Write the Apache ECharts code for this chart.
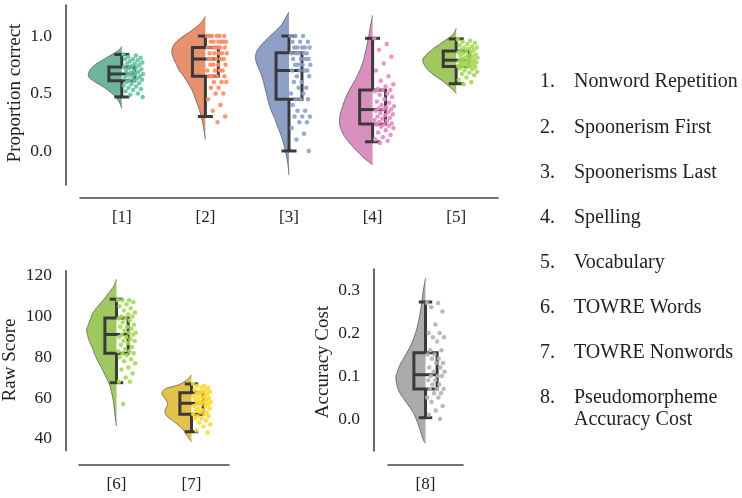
<!DOCTYPE html>
<html>
<head>
<meta charset="utf-8">
<title>Raincloud plots</title>
<script src="https://cdn.jsdelivr.net/npm/echarts@6/dist/echarts.min.js"></script>
<style>
  html, body { margin: 0; padding: 0; background: #fff; }
  #chart { width: 742px; height: 498px; }
</style>
</head>
<body>
<div id="chart"></div>
<script>
// task names for the list on the right
var taskNames = ['Nonword Repetition', 'Spoonerism First', 'Spoonerisms Last', 'Spelling',
  'Vocabulary', 'TOWRE Words', 'TOWRE Nonwords', 'Pseudomorpheme', 'Accuracy Cost'];

// which panel each task is drawn in, and its slot on that panel's x axis
var panelOf = [0, 0, 0, 0, 0, 1, 1, 2];
var slotOf = [1, 2, 3, 4, 5, 1, 2, 1];
var firstTask = [1, 6, 8];

// y tick labels per panel
var yTicks0 = [0, 0.5, 1.0];
var yTicks1 = [40, 60, 80, 100, 120];
var yTicks2 = [0, 0.1, 0.2, 0.3];

// box plots: [low whisker, Q1, median, Q3, high whisker]
var boxStats = [
  [0.47, 0.61, 0.67, 0.73, 0.84],
  [0.30, 0.65, 0.80, 0.90, 1.00],
  [0.00, 0.45, 0.70, 0.855, 1.00],
  [0.08, 0.235, 0.36, 0.53, 0.98],
  [0.585, 0.735, 0.79, 0.87, 0.975],
  [67.5, 82, 91.2, 99.3, 108.5],
  [43.4, 52, 57.4, 62.5, 66.9],
  [0.003, 0.07, 0.103, 0.154, 0.272]
];

// half violin outlines: [value, relative width]
var violin1 = [[0.91, 0], [0.87, 0.12], [0.83, 0.35], [0.79, 0.58], [0.75, 0.8], [0.71, 0.94], [0.67, 1.0],
  [0.64, 0.98], [0.61, 0.85], [0.57, 0.62], [0.53, 0.42], [0.49, 0.25], [0.45, 0.13], [0.41, 0.05], [0.37, 0]];
var violin2 = [[1.17, 0], [1.11, 0.15], [1.05, 0.4], [0.99, 0.7], [0.94, 0.9], [0.88, 1.0], [0.82, 0.97],
  [0.76, 0.88], [0.70, 0.78], [0.65, 0.65], [0.59, 0.52], [0.53, 0.4], [0.47, 0.32], [0.415, 0.25],
  [0.36, 0.18], [0.27, 0.1], [0.18, 0.04], [0.10, 0]];
var violin3 = [[1.21, 0], [1.154, 0.11], [1.096, 0.23], [1.037, 0.43], [0.98, 0.64], [0.92, 0.84],
  [0.863, 0.97], [0.806, 1.0], [0.748, 0.95], [0.69, 0.86], [0.632, 0.79], [0.574, 0.74], [0.516, 0.69],
  [0.458, 0.64], [0.40, 0.59], [0.342, 0.52], [0.284, 0.43], [0.226, 0.36], [0.168, 0.28], [0.11, 0.21],
  [0.052, 0.15], [-0.035, 0.08], [-0.12, 0.03], [-0.21, 0]];
var violin4 = [[1.18, 0], [1.11, 0.05], [0.99, 0.12], [0.878, 0.2], [0.763, 0.3], [0.646, 0.47], [0.559, 0.64],
  [0.472, 0.79], [0.385, 0.9], [0.298, 0.98], [0.211, 0.97], [0.124, 0.83], [0.037, 0.59], [-0.05, 0.3],
  [-0.12, 0]];
var violin5 = [[1.067, 0], [1.009, 0.11], [0.95, 0.39], [0.893, 0.67], [0.835, 0.9], [0.791, 1.0],
  [0.733, 0.92], [0.675, 0.73], [0.617, 0.45], [0.559, 0.2], [0.5, 0]];
var violin6 = [[118.3, 0], [114.7, 0.1], [111.4, 0.27], [108.2, 0.43], [104.9, 0.63], [101.6, 0.79],
  [98.3, 0.88], [95, 0.96], [93.4, 1.0], [91.8, 0.98], [88.5, 0.92], [85.2, 0.82], [82, 0.74], [78.7, 0.64],
  [75.4, 0.52], [72.1, 0.41], [68.8, 0.3], [65.6, 0.21], [62.3, 0.16], [59, 0.11], [54.1, 0.07],
  [49.2, 0.03], [46.2, 0]];
var violin7 = [[71.3, 0], [68.8, 0.16], [66.4, 0.44], [64.8, 0.83], [63.1, 0.97], [61.5, 0.97], [59, 0.85],
  [56.6, 0.8], [54.1, 0.88], [51.6, 0.85], [49.2, 0.66], [46.7, 0.44], [44.3, 0.27], [41.8, 0.16], [38.5, 0]];
var violin8 = [[0.327, 0], [0.3, 0.07], [0.269, 0.13], [0.238, 0.2], [0.207, 0.3], [0.176, 0.46],
  [0.153, 0.63], [0.13, 0.82], [0.106, 0.96], [0.091, 0.98], [0.067, 0.9], [0.044, 0.7], [0.021, 0.46],
  [-0.002, 0.3], [-0.026, 0.18], [-0.049, 0.07], [-0.056, 0]];
var violins = [violin1, violin2, violin3, violin4, violin5, violin6, violin7, violin8];

// individual scores (the rain)
var scores1 = [0.84, 0.83, 0.82, 0.81, 0.80, 0.80, 0.79, 0.78, 0.77, 0.76, 0.76, 0.75, 0.74, 0.73, 0.73, 0.72,
  0.71, 0.70, 0.70, 0.69, 0.68, 0.67, 0.67, 0.66, 0.65, 0.65, 0.64, 0.63, 0.62, 0.62, 0.61, 0.60, 0.59, 0.58,
  0.57, 0.56, 0.55, 0.54, 0.53, 0.52, 0.50, 0.49, 0.47];
var scores2 = [1, 1, 1, 1, 1, 1, 0.95, 0.95, 0.95, 0.95, 0.95, 0.95, 0.9, 0.9, 0.9, 0.9, 0.9, 0.9,
  0.85, 0.85, 0.85, 0.85, 0.85, 0.8, 0.8, 0.8, 0.8, 0.8, 0.75, 0.75, 0.75, 0.75, 0.7, 0.7, 0.7, 0.7,
  0.65, 0.65, 0.65, 0.65, 0.6, 0.6, 0.6, 0.55, 0.55, 0.5, 0.5, 0.45, 0.4, 0.35, 0.3, 0.25];
var scores3 = [1, 1, 1, 0.95, 0.95, 0.95, 0.9, 0.9, 0.9, 0.9, 0.9, 0.85, 0.85, 0.85, 0.85, 0.85,
  0.8, 0.8, 0.8, 0.8, 0.75, 0.75, 0.75, 0.75, 0.7, 0.7, 0.7, 0.7, 0.65, 0.65, 0.6, 0.6, 0.55, 0.55,
  0.5, 0.5, 0.45, 0.45, 0.45, 0.4, 0.35, 0.35, 0.3, 0.3, 0.3, 0.25, 0.25, 0.2, 0.15, 0.1, 0];
var scores4 = [0.98, 0.93, 0.88, 0.82, 0.76, 0.7, 0.65, 0.61, 0.58, 0.56, 0.54, 0.53, 0.53, 0.52, 0.5, 0.49,
  0.47, 0.45, 0.43, 0.42, 0.4, 0.39, 0.38, 0.37, 0.36, 0.36, 0.35, 0.34, 0.33, 0.32, 0.31, 0.3, 0.29, 0.28,
  0.27, 0.26, 0.25, 0.24, 0.23, 0.23, 0.22, 0.21, 0.2, 0.18, 0.16, 0.14, 0.12, 0.1, 0.09, 0.07];
var scores5 = [0.97, 0.96, 0.95, 0.94, 0.93, 0.92, 0.91, 0.9, 0.9, 0.89, 0.88, 0.88, 0.87, 0.86, 0.86, 0.85,
  0.84, 0.83, 0.83, 0.82, 0.81, 0.81, 0.8, 0.8, 0.79, 0.79, 0.78, 0.78, 0.77, 0.77, 0.76, 0.76, 0.75, 0.75,
  0.74, 0.74, 0.74, 0.73, 0.73, 0.72, 0.71, 0.7, 0.69, 0.68, 0.67, 0.66, 0.64, 0.62, 0.6, 0.58];
var scores6 = [108, 108, 108, 107, 106, 105, 104, 103, 102, 101, 100, 100, 99, 99, 98, 97, 96, 95, 95, 94,
  93, 92, 92, 91, 91, 90, 90, 89, 88, 88, 87, 86, 85, 84, 83, 83, 82, 82, 81, 80, 79, 78, 77, 75, 74, 72,
  70, 68, 68, 57];
var scores7 = [67, 66, 66, 65, 65, 64, 64, 63, 63, 63, 62, 62, 62, 61, 61, 60, 60, 60, 59, 59, 58, 58, 58,
  57, 57, 57, 56, 56, 55, 55, 54, 54, 53, 53, 52, 52, 51, 51, 50, 50, 49, 48, 47, 46, 44, 43];
var scores8 = [0.27, 0.27, 0.26, 0.25, 0.22, 0.2, 0.2, 0.19, 0.19, 0.18, 0.16, 0.16, 0.15, 0.15, 0.14, 0.14,
  0.13, 0.13, 0.12, 0.12, 0.11, 0.11, 0.1, 0.1, 0.1, 0.09, 0.09, 0.08, 0.08, 0.07, 0.07, 0.07, 0.06, 0.06,
  0.05, 0.05, 0.04, 0.03, 0.02, 0.01, 0];
var scores = [scores1, scores2, scores3, scores4, scores5, scores6, scores7, scores8];

// Set2 palette, violins a bit desaturated like seaborn does
var pointColors = ['#66c2a5', '#fc8d62', '#8da0cb', '#e78ac3', '#a6d854', '#a6d854', '#ffd92f', '#b3b3b3'];
var violinColors = ['#6fb59d', '#e8916e', '#8fa0c6', '#d990bf', '#9fc860', '#9fc860', '#e2c24a', '#ababab'];

var serif = '"Liberation Serif", "DejaVu Serif", serif';
var textColor = '#222';
var axisColor = '#444';
var boxColor = '#3a3a3a';

var chart = echarts.init(document.getElementById('chart'));

/**
 * deterministic sideways spread of the points, right of the centre line
 */
function jitter(i) {
  return 0.02 + ((i * 0.618034) % 1) * 0.24;
}

/**
 * catmull-rom through pixel points, only to round off the outline
 */
function smoothPath(pts, cx) {
  var out = [];
  var n = pts.length;
  for (var i = 0; i < n - 1; i++) {
    var p0 = pts[Math.max(i - 1, 0)], p1 = pts[i], p2 = pts[i + 1], p3 = pts[Math.min(i + 2, n - 1)];
    for (var s = 0; s < 8; s++) {
      var t = s / 8, t2 = t * t, t3 = t2 * t;
      var x = 0.5 * (2 * p1[0] + (-p0[0] + p2[0]) * t + (2 * p0[0] - 5 * p1[0] + 4 * p2[0] - p3[0]) * t2 +
        (-p0[0] + 3 * p1[0] - 3 * p2[0] + p3[0]) * t3);
      var y = 0.5 * (2 * p1[1] + (-p0[1] + p2[1]) * t + (2 * p0[1] - 5 * p1[1] + 4 * p2[1] - p3[1]) * t2 +
        (-p0[1] + 3 * p1[1] - 3 * p2[1] + p3[1]) * t3);
      out.push([Math.min(x, cx), y]);
    }
  }
  out.push(pts[n - 1]);
  return out;
}

function violinSeries(k) {
  return {
    type: 'custom',
    xAxisIndex: panelOf[k],
    yAxisIndex: panelOf[k],
    z: 1,
    silent: true,
    data: [[slotOf[k], boxStats[k][2]]],
    renderItem: function (params, api) {
      var c = slotOf[k];
      var cx = api.coord([c, 0])[0];
      var pts = smoothPath(violins[k].map(function (p) {
        return api.coord([c - p[1] * 0.4, p[0]]);
      }), cx);
      return {
        type: 'group',
        children: [{
          type: 'polygon',
          shape: { points: pts },
          style: { fill: violinColors[k] }
        }, {
          type: 'polyline',
          shape: { points: pts },
          style: { stroke: '#555', lineWidth: 0.8, fill: null }
        }]
      };
    }
  };
}

function boxSeries(k) {
  return {
    type: 'custom',
    xAxisIndex: panelOf[k],
    yAxisIndex: panelOf[k],
    z: 2,
    silent: true,
    data: [[slotOf[k], boxStats[k][2]]],
    renderItem: function (params, api) {
      var s = boxStats[k], c = slotOf[k];
      var lo = api.coord([c, s[0]]), q1 = api.coord([c, s[1]]), md = api.coord([c, s[2]]);
      var q3 = api.coord([c, s[3]]), hi = api.coord([c, s[4]]);
      var bw = api.size([0.155, 0])[0];
      var cw = api.size([0.09, 0])[0];
      var x = lo[0];
      var st = { stroke: boxColor, lineWidth: 3, fill: null };
      function seg(x1, y1, x2, y2) {
        return { type: 'line', shape: { x1: x1, y1: y1, x2: x2, y2: y2 }, style: st };
      }
      return {
        type: 'group',
        children: [
          { type: 'rect', shape: { x: x - bw, y: q3[1], width: bw * 2, height: q1[1] - q3[1] }, style: st },
          seg(x - bw, md[1], x + bw, md[1]),
          seg(x, q3[1], x, hi[1]),
          seg(x, q1[1], x, lo[1]),
          seg(x - cw, hi[1], x + cw, hi[1]),
          seg(x - cw, lo[1], x + cw, lo[1])
        ]
      };
    }
  };
}

function rainSeries(k) {
  return {
    type: 'scatter',
    xAxisIndex: panelOf[k],
    yAxisIndex: panelOf[k],
    z: 3,
    silent: true,
    symbolSize: 4.5,
    itemStyle: { color: pointColors[k], opacity: 0.9 },
    data: scores[k].map(function (v, i) {
      return [slotOf[k] + jitter(i), v];
    })
  };
}

function xAxis(p, min, max, slots, offset) {
  return {
    type: 'value', gridIndex: p, min: min, max: max, offset: offset,
    axisLine: { show: true, onZero: false, lineStyle: { color: axisColor, width: 1.6 } },
    axisTick: { show: false },
    splitLine: { show: false },
    axisLabel: {
      customValues: slots, margin: 11, color: textColor, fontFamily: serif, fontSize: 17,
      formatter: function (v) { return '[' + (firstTask[p] + v - 1) + ']'; }
    }
  };
}

function yAxis(p, min, max, ticks, digits, offset) {
  return {
    type: 'value', gridIndex: p, min: min, max: max, offset: offset,
    axisLine: { show: true, onZero: false, lineStyle: { color: axisColor, width: 1.6 } },
    axisTick: { show: false },
    splitLine: { show: false },
    axisLabel: {
      customValues: ticks, margin: 14, color: textColor, fontFamily: serif, fontSize: 17.5,
      formatter: function (v) { return v.toFixed(digits); }
    }
  };
}

function label(text, x, y, rotate, align, size) {
  return {
    type: 'text', x: x, y: y, rotation: rotate ? Math.PI / 2 : 0,
    style: {
      text: text, fill: textColor, font: (size || 19) + 'px ' + serif,
      align: align || 'center', verticalAlign: 'middle'
    }
  };
}

var series = [];
for (var k = 0; k < 8; k++) {
  series.push(violinSeries(k), boxSeries(k), rainSeries(k));
}

// numbered list of the tasks on the right
var listY = [82, 128, 173, 218, 263, 308, 353, 398, 420];
var graphics = [
  label('Proportion correct', 15, 93, true),
  label('Raw Score', 10, 360, true),
  label('Accuracy Cost', 323, 362, true)
];
taskNames.forEach(function (name, i) {
  if (i < 8) graphics.push(label((i + 1) + '.', 540, listY[i], false, 'left', 20));
  graphics.push(label(name, 574, listY[i], false, 'left', 20));
});

var option = {
  backgroundColor: '#ffffff',
  animation: false,
  grid: [
    { left: 80, top: 5, width: 418, height: 180 },
    { left: 79, top: 270.7, width: 150, height: 180 },
    { left: 388, top: 269, width: 75, height: 182 }
  ],
  xAxis: [
    xAxis(0, 0.5, 5.5, [1, 2, 3, 4, 5], 13),
    xAxis(1, 0.5, 2.5, [1, 2], 14.3),
    xAxis(2, 0.5, 1.5, [1], 14)
  ],
  yAxis: [
    yAxis(0, -0.296, 1.27, yTicks0, 1, 14),
    yAxis(1, 34.1, 122.5, yTicks1, 0, 13),
    yAxis(2, -0.0744, 0.3488, yTicks2, 1, 14)
  ],
  graphic: graphics,
  series: series
};

chart.setOption(option);
</script>
</body>
</html>
